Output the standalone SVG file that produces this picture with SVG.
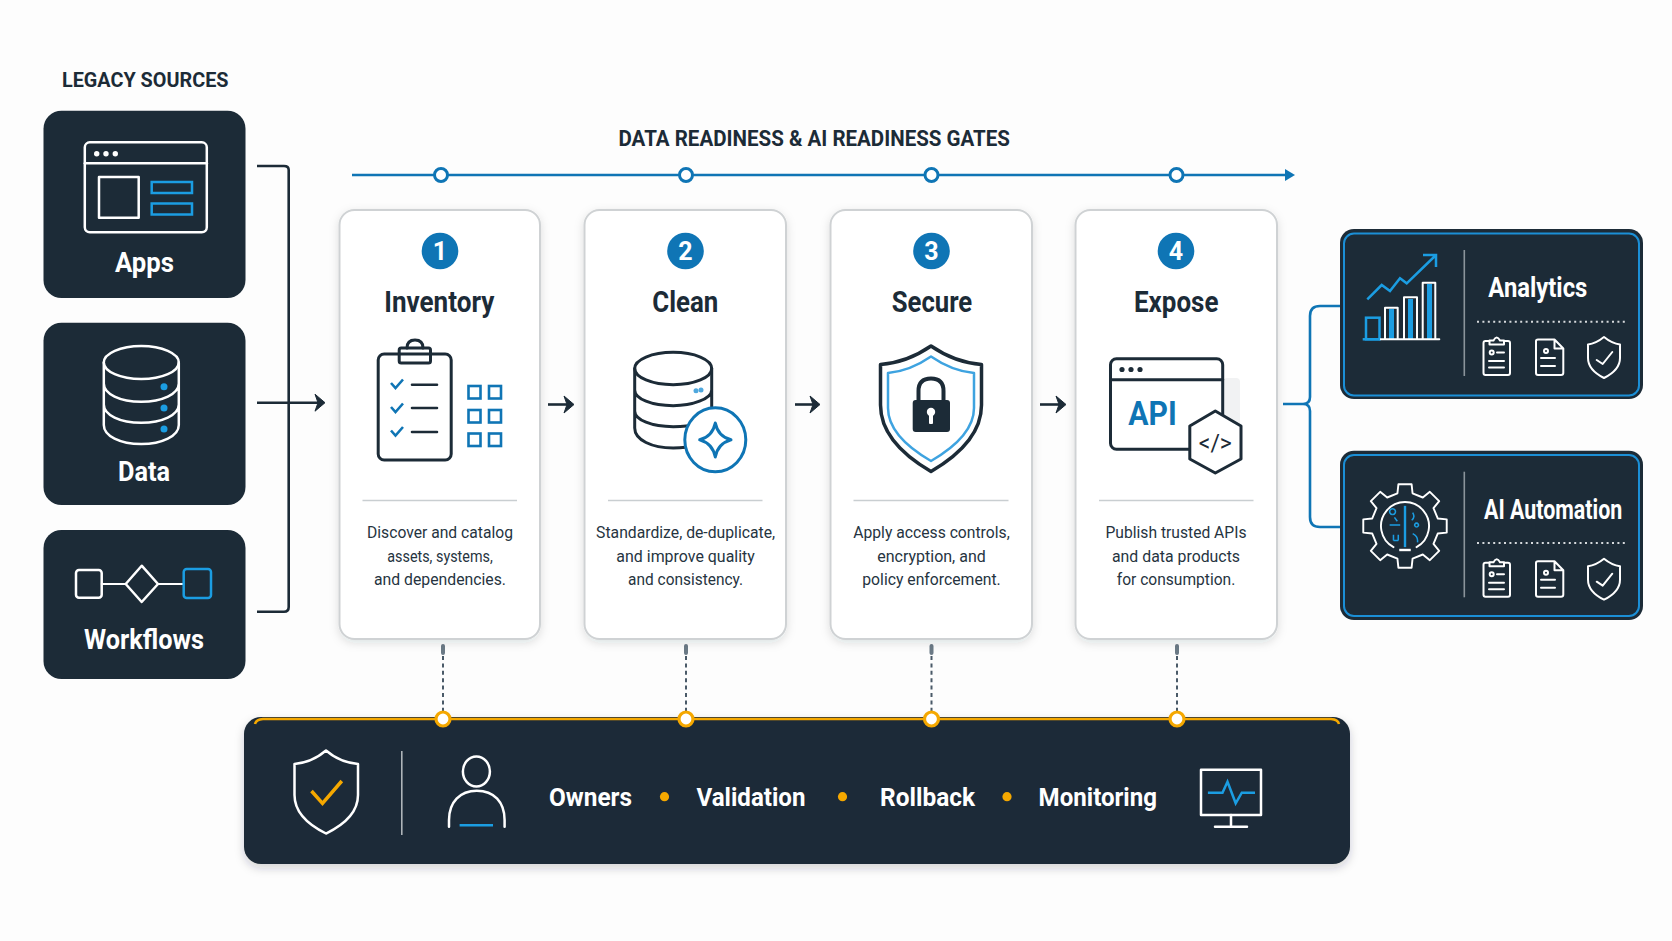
<svg xmlns="http://www.w3.org/2000/svg" xmlns:xlink="http://www.w3.org/1999/xlink" width="1672" height="941" viewBox="0 0 1672 941">
<style>
text{font-family:Roboto,"Liberation Sans",sans-serif}
.h{font-weight:700;fill:#1c2b37}
.l{font-weight:700;fill:#fff}
.t{font-weight:700;fill:#1c2b37;font-size:29px;text-anchor:middle}
.d{font-size:16.5px;fill:#26343f;text-anchor:middle}
.n{font-weight:700;font-size:25px;fill:#fff;text-anchor:middle}
.dark{fill:#1c2b37}
.w{fill:none;stroke:#fff;stroke-width:2.5;stroke-linejoin:round;stroke-linecap:round}
.w2{fill:none;stroke:#fff;stroke-width:2;stroke-linejoin:round;stroke-linecap:round}
.k{fill:none;stroke:#1c2b37;stroke-width:3;stroke-linejoin:round;stroke-linecap:round}
.b{fill:none;stroke:#0f75b5;stroke-width:2.6}
.lb{fill:none;stroke:#1b9de2;stroke-width:2.5}
.card{fill:#fff;stroke:#cfd2d4;stroke-width:2;filter:url(#sh)}
.rule{stroke:#c9ced1;stroke-width:1.6}
.badge{fill:#0f75b5}
.amb{fill:#f5a800}
.pin{fill:#fff;stroke:#f5a800;stroke-width:3.2}
.gate{fill:#fff;stroke:#0f75b5;stroke-width:3}
.cap{stroke:#6b7a86;stroke-width:4;stroke-linecap:round}
.dot{stroke:#4a5a68;stroke-width:2;stroke-dasharray:4 3.4}
.con{fill:none;stroke:#1c2b37;stroke-width:2.6;stroke-linejoin:round}
.conb{fill:none;stroke:#0f75b5;stroke-width:2.6}
.rd{stroke:#d5d9dc;stroke-width:2;stroke-dasharray:2 3.4}
.rv{stroke:#8a949b;stroke-width:1.6}
</style>
<defs>
<filter id="sh" x="-15%" y="-15%" width="130%" height="130%"><feDropShadow dx="0" dy="3" stdDeviation="5" flood-color="#1c2b37" flood-opacity="0.13"/></filter>
<filter id="sh2" x="-5%" y="-15%" width="110%" height="130%"><feDropShadow dx="0" dy="4" stdDeviation="5" flood-color="#1c2b37" flood-opacity="0.2"/></filter>
<path id="ah" d="M-10 -8.5 L0 0 L-10 8.5 L-7 0 Z" fill="#1c2b37" stroke="#1c2b37" stroke-width="1" stroke-linejoin="round"/>
<g id="minis">
<rect x="1483.5" y="341" width="26.5" height="34" rx="2" class="w2"/>
<path d="M1489.5 344.5 V340.5 H1493.5 Q1496.7 334.5 1500 340.5 H1504 V344.5 Z" class="w2" style="fill:#1c2b37"/>
<circle cx="1491.7" cy="352.5" r="2" class="w2"/>
<path d="M1497 352.5 H1504 M1489 361 H1504 M1489 367.5 H1504" class="w2"/>
<path d="M1536 341 Q1536 339.5 1538 339.5 H1554.5 L1563.3 348.5 V373 Q1563.3 375 1561 375 H1538 Q1536 375 1536 373 Z M1554.5 339.5 V348.5 H1563.3" class="w2"/>
<circle cx="1546" cy="351" r="2" class="w2"/>
<path d="M1541 358 H1555 M1541 366 H1555" class="w2"/>
<path d="M1604 337 Q1612 343.500 1620 344.500 V358 Q1620 370 1604 378 Q1588 370 1588 358 V344.500 Q1596 343.500 1604 337 Z" class="w2"/>
<path d="M1596.7 360 L1602.7 364 L1612.3 352" class="w2"/>
</g>
</defs>
<rect width="1672" height="941" fill="#fdfdfd"/>

<g id="connectors">
<path class="con" d="M257 166 H284 Q288.7 166 288.7 170 V607 Q288.7 611.7 284 611.7 H257"/>
<path class="con" d="M257 402.7 H322"/><use href="#ah" x="325" y="402.7"/>
<path class="con" d="M548 404.500 H571"/><use href="#ah" x="574" y="404.500"/>
<path class="con" d="M795 404.500 H817"/><use href="#ah" x="820" y="404.500"/>
<path class="con" d="M1040 404.500 H1063"/><use href="#ah" x="1066" y="404.500"/>
<path class="conb" d="M1283 404 H1303 Q1310 404 1310 397 V316 Q1310 306 1320 306 H1344 M1303 404 Q1310 404 1310 411 V517 Q1310 527 1320 527 H1344"/>
<g id="gates">
<path class="conb" d="M352 175 H1288"/>
<path d="M1285 169 L1295 175 L1285 181 Z" fill="#0f75b5"/>
<circle class="gate" cx="441" cy="175" r="6.5"/><circle class="gate" cx="686" cy="175" r="6.5"/><circle class="gate" cx="931.500" cy="175" r="6.5"/><circle class="gate" cx="1176.500" cy="175" r="6.5"/>
</g>
<g id="drops">
<path class="cap" d="M443 646 V653 M686 646 V653 M931.5 646 V653 M1177 646 V653"/>
<path class="dot" d="M443 656 V712 M686 656 V712 M931.5 656 V712 M1177 656 V712"/>
</g>
</g>

<text x="62" y="87" class="h" font-size="20" textLength="166.500" lengthAdjust="spacingAndGlyphs">LEGACY SOURCES</text>
<text x="618.500" y="146" class="h" font-size="22" textLength="391.500" lengthAdjust="spacingAndGlyphs">DATA READINESS &amp; AI READINESS GATES</text>

<g id="apps">
<rect class="dark" x="43.500" y="110.700" width="202" height="187.300" rx="18"/>
<rect class="w" x="84.800" y="142.300" width="122" height="90" rx="5"/>
<path class="w" d="M84.800 163.300 H206.800"/>
<circle cx="96.700" cy="153.700" r="2.700" fill="#fff"/><circle cx="106" cy="153.700" r="2.700" fill="#fff"/><circle cx="115.300" cy="153.700" r="2.700" fill="#fff"/>
<rect class="w" x="99" y="177" width="39.700" height="40.700"/>
<rect class="lb" x="151.700" y="182" width="40.300" height="11"/>
<rect class="lb" x="151.700" y="203.500" width="40.300" height="11"/>
<text class="l" x="115" y="272" font-size="28" textLength="59" lengthAdjust="spacingAndGlyphs">Apps</text>
</g>

<g id="data">
<rect class="dark" x="43.500" y="322.700" width="202" height="182.300" rx="18"/>
<ellipse class="w" cx="141.300" cy="362.500" rx="37.500" ry="16.500"/>
<path class="w" d="M103.800 362.500 V425 C103.800 436 120 444 141.300 444 C162 444 178.800 436 178.800 425 V362.500 M103.800 383.500 C103.800 394 120 401.700 141.300 401.700 C162 401.700 178.800 394 178.800 383.500 M103.800 404.500 C103.800 415 120 422.700 141.300 422.700 C162 422.700 178.800 415 178.800 404.500"/>
<circle cx="164" cy="386.700" r="3.500" fill="#1b9de2"/><circle cx="164" cy="408" r="3.500" fill="#1b9de2"/><circle cx="164" cy="429" r="3.500" fill="#1b9de2"/>
<text class="l" x="118" y="481" font-size="27" textLength="52" lengthAdjust="spacingAndGlyphs">Data</text>
</g>

<g id="workflows">
<rect class="dark" x="43.500" y="530" width="202" height="149" rx="18"/>
<rect class="w" x="76" y="570" width="25.700" height="27.700" rx="3"/>
<path class="w2" d="M101.700 584 H125.700 M158 584 H183"/>
<path class="w" d="M125.700 584 L141.700 565.700 L158 584 L141.700 602 Z"/>
<rect class="lb" x="183.700" y="569" width="27.300" height="29" rx="3"/>
<text class="l" x="84" y="649" font-size="27" textLength="120" lengthAdjust="spacingAndGlyphs">Workflows</text>
</g>

<g id="inventory">
<rect class="card" x="339.500" y="210" width="200.500" height="429" rx="15"/>
<circle class="badge" cx="440" cy="251" r="18.300"/><text class="n" x="440" y="260">1</text>
<text class="t" x="439.300" y="311.700" textLength="110" lengthAdjust="spacingAndGlyphs">Inventory</text>
<rect class="k" x="378.200" y="354" width="73" height="106" rx="6"/>
<path class="k" d="M407 348 Q407 340 415 340 Q423 340 423 348"/>
<rect x="399.200" y="348" width="31.300" height="15" rx="2" fill="#fff" class="k"/>
<path class="b" d="M391 383 L395.500 388 L403 379.500 M391 407 L395.500 412 L403 403.500 M391 430.500 L395.500 435.500 L403 427"/>
<path class="k" style="stroke-width:2.6" d="M412 384.700 H437 M412 408 H437 M412 432 H437"/>
<g class="b"><rect x="468.500" y="386" width="12" height="12.500"/><rect x="489" y="386" width="12" height="12.500"/><rect x="468.500" y="410" width="12" height="12.500"/><rect x="489" y="410" width="12" height="12.500"/><rect x="468.500" y="433.500" width="12" height="12.500"/><rect x="489" y="433.500" width="12" height="12.500"/></g>
<path class="rule" d="M362.500 500.500 H517"/>
<text class="d" x="440" y="538" textLength="146" lengthAdjust="spacingAndGlyphs">Discover and catalog</text>
<text class="d" x="440" y="561.500" textLength="105.500" lengthAdjust="spacingAndGlyphs">assets, systems,</text>
<text class="d" x="440" y="585" textLength="132" lengthAdjust="spacingAndGlyphs">and dependencies.</text>
</g>

<g id="clean">
<rect class="card" x="584.500" y="210" width="201.500" height="429" rx="15"/>
<circle class="badge" cx="685.500" cy="251" r="18.300"/><text class="n" x="685.500" y="260">2</text>
<text class="t" x="685.300" y="311.700" textLength="66" lengthAdjust="spacingAndGlyphs">Clean</text>
<ellipse class="k" cx="673.200" cy="368.500" rx="38.500" ry="16.200"/>
<path class="k" d="M634.700 368.500 V428 C634.700 440 652 448 673.200 448 C680 448 690 447 697 445 M711.700 368.500 V420 M634.700 390 C634.700 399 652 405.700 673.200 405.700 C692 405.700 711.700 399 711.700 390 M634.700 411 C634.700 420 652 426.700 673.200 426.700 C680 426.700 690 426 696 424"/>
<circle cx="696" cy="390.700" r="2.500" fill="#4fa8de"/><circle cx="701" cy="390" r="2.500" fill="#4fa8de"/>
<ellipse cx="715.300" cy="439.800" rx="30.500" ry="32" fill="#fff" stroke="#0f75b5" stroke-width="3"/>
<path d="M715.300 423 Q718 436.500 731 439.800 Q718 443.500 715.300 457 Q712.500 443.500 699.700 439.800 Q712.500 436.500 715.300 423 Z" fill="none" stroke="#0f75b5" stroke-width="3" stroke-linejoin="round"/>
<path class="rule" d="M608 500.500 H762.500"/>
<text class="d" x="685.600" y="538" textLength="179" lengthAdjust="spacingAndGlyphs">Standardize, de-duplicate,</text>
<text class="d" x="685.600" y="561.500" textLength="138.500" lengthAdjust="spacingAndGlyphs">and improve quality</text>
<text class="d" x="685.600" y="585" textLength="115" lengthAdjust="spacingAndGlyphs">and consistency.</text>
</g>

<g id="secure">
<rect class="card" x="830.500" y="210" width="201.500" height="429" rx="15"/>
<circle class="badge" cx="931.500" cy="251" r="18.300"/><text class="n" x="931.500" y="260">3</text>
<text class="t" x="932" y="311.700" textLength="80.500" lengthAdjust="spacingAndGlyphs">Secure</text>
<path class="k" style="stroke-width:3.5" d="M931 346 Q955 362.500 981.500 364.500 V405 Q981.500 442 931 471.500 Q880.500 442 880.500 405 V364.500 Q907 362.500 931 346 Z"/>
<path d="M931 356.500 Q952 371 974 373 V408 Q974 436 931 461 Q888 436 888 408 V373 Q910 371 931 356.500 Z" fill="none" stroke="#3ea3e0" stroke-width="2.5" stroke-linejoin="round"/>
<path class="k" style="stroke-width:4" d="M918.500 402 V391 Q918.500 378.500 931 378.500 Q943.500 378.500 943.500 391 V402"/>
<rect x="912.700" y="400" width="37.300" height="32" rx="3" fill="#1c2b37"/>
<circle cx="931" cy="412" r="4.200" fill="#fff"/><rect x="929" y="413" width="4" height="11" rx="1" fill="#fff"/>
<path class="rule" d="M853.500 500.500 H1008.500"/>
<text class="d" x="931.500" y="538" textLength="156.500" lengthAdjust="spacingAndGlyphs">Apply access controls,</text>
<text class="d" x="931.500" y="561.500" textLength="108.500" lengthAdjust="spacingAndGlyphs">encryption, and</text>
<text class="d" x="931.500" y="585" textLength="138.500" lengthAdjust="spacingAndGlyphs">policy enforcement.</text>
</g>

<g id="expose">
<rect class="card" x="1075.500" y="210" width="201.500" height="429" rx="15"/>
<circle class="badge" cx="1176" cy="251" r="18.300"/><text class="n" x="1176" y="260">4</text>
<text class="t" x="1176.200" y="311.700" textLength="84.500" lengthAdjust="spacingAndGlyphs">Expose</text>
<rect x="1223" y="378" width="17" height="60" rx="4" fill="#f1f2f3"/>
<rect class="k" x="1110.500" y="358.800" width="112.200" height="90.500" rx="6"/>
<path class="k" d="M1110.500 379.800 H1222.700"/>
<circle cx="1122" cy="369.500" r="2.600" fill="#1c2b37"/><circle cx="1131" cy="369.500" r="2.600" fill="#1c2b37"/><circle cx="1140" cy="369.500" r="2.600" fill="#1c2b37"/>
<text x="1128.300" y="425" font-size="33" font-weight="700" fill="#0f75b5" textLength="48.500" lengthAdjust="spacingAndGlyphs">API</text>
<path d="M1215.300 411 L1241 426 V459 L1215.300 473 L1189.800 459 V426 Z" fill="#fff" stroke="#1c2b37" stroke-width="3" stroke-linejoin="round"/>
<text x="1215.300" y="451" font-size="24" fill="#1c2b37" text-anchor="middle" textLength="33" lengthAdjust="spacingAndGlyphs">&lt;/&gt;</text>
<path class="rule" d="M1099 500.500 H1253.500"/>
<text class="d" x="1176" y="538" textLength="141" lengthAdjust="spacingAndGlyphs">Publish trusted APIs</text>
<text class="d" x="1176" y="561.500" textLength="128" lengthAdjust="spacingAndGlyphs">and data products</text>
<text class="d" x="1176" y="585" textLength="118.500" lengthAdjust="spacingAndGlyphs">for consumption.</text>
</g>

<g id="analytics">
<rect class="dark" x="1340" y="229" width="303" height="170" rx="14"/>
<rect x="1344" y="233.500" width="295" height="162" rx="10" fill="none" stroke="#1b8fd6" stroke-width="2"/>
<path class="rv" d="M1464.300 250 V376"/>
<path class="lb" d="M1367.300 299.300 L1381.700 285 L1390 291 L1400 278.300 L1406.700 283.300 L1435 256 M1423 255 H1436 V267"/>
<rect class="lb" x="1366" y="317.700" width="13.500" height="21.600"/>
<g fill="#1b9de2"><rect x="1389" y="309" width="5" height="30"/><rect x="1408" y="299" width="5" height="40"/><rect x="1427" y="284" width="5" height="55"/></g>
<path class="w2" d="M1385 339.300 V307.700 H1397.700 V339.300 M1404 339.300 V297.300 H1417 V339.300 M1422.700 339.300 V282.700 H1435.300 V339.300 M1380 339.300 H1439.300"/>
<path d="M1362.700 339.300 H1380" class="lb"/>
<text class="l" x="1488.300" y="296.700" font-size="27" textLength="99" lengthAdjust="spacingAndGlyphs">Analytics</text>
<path class="rd" d="M1477 321.700 H1625.700"/>
<use href="#minis"/>
</g>

<g id="ai-automation">
<rect class="dark" x="1340" y="450.700" width="303" height="169.300" rx="14"/>
<rect x="1344" y="455" width="295" height="161" rx="10" fill="none" stroke="#1b8fd6" stroke-width="2"/>
<path class="rv" d="M1464.300 471.700 V597.300"/>
<g transform="translate(1405 526) scale(0.96)">
<polygon class="w2" points="34.100,-7.870 43.460,-6.880 43.460,6.880 34.100,7.870 29.680,18.550 35.600,25.870 25.870,35.600 18.550,29.680 7.870,34.100 6.880,43.460 -6.880,43.460 -7.870,34.100 -18.550,29.680 -25.870,35.600 -35.600,25.870 -29.680,18.550 -34.100,7.870 -43.460,6.880 -43.460,-6.880 -34.100,-7.870 -29.680,-18.550 -35.600,-25.870 -25.870,-35.600 -18.550,-29.680 -7.870,-34.100 -6.880,-43.460 6.880,-43.460 7.870,-34.100 18.550,-29.680 25.870,-35.600 35.600,-25.870 29.680,-18.550"/>
<path class="w2" d="M-12 22 A25 25 0 1 1 12 22"/>
<path d="M0 -21 V22" stroke="#1b9de2" stroke-width="2.500"/>
<path d="M-6 25 H6" stroke="#fff" stroke-width="2.500"/>
<path d="M-13 -12 a3 3 0 1 1 0.100 0 M-11 -9 L-8 -5 M8 -14 q3 5 -1 8 M-16 -1 H-5 M12 1 a2 2 0 1 1 0.100 0 M-12 9 v6 M-7 9 v6 M-12 15 H-7 M8 8 q6 3 5 9" fill="none" stroke="#1b9de2" stroke-width="1.600"/>
</g>
<text class="l" x="1484" y="519" font-size="27" textLength="138.300" lengthAdjust="spacingAndGlyphs">AI Automation</text>
<path class="rd" d="M1477 543 H1625.700"/>
<use href="#minis" y="221.700"/>
</g>

<g id="governance">
<rect class="dark" x="244" y="717" width="1106" height="147" rx="17" filter="url(#sh2)"/>
<path d="M255 724 Q256 719.500 263 719 H1331 Q1338 719.500 1339 724" fill="none" stroke="#f5a800" stroke-width="2.500"/>
<circle class="pin" cx="443" cy="719" r="7"/><circle class="pin" cx="686" cy="719" r="7"/><circle class="pin" cx="931.500" cy="719" r="7"/><circle class="pin" cx="1177" cy="719" r="7"/>
<path d="M326 750.500 Q340 762.500 358 764 V795 Q358 818 326 833.500 Q294.500 818 294.500 795 V764 Q312 762.500 326 750.500 Z" class="w"/>
<path d="M311.500 791 L322.500 803.300 L341.800 781" fill="none" stroke="#f5a800" stroke-width="3.500"/>
<path d="M401.800 751 V835" stroke="#aeb4b9" stroke-width="1.600"/>
<ellipse class="w" cx="476.400" cy="771.500" rx="13.500" ry="15"/>
<path class="w" d="M449 826.700 V820 C449 802 460 790.700 476.800 790.700 C494 790.700 504.600 802 504.600 820 V826.700"/>
<path d="M459.600 825.300 H493" stroke="#1b9de2" stroke-width="2.500"/>
<text class="l" x="549" y="806" font-size="26.500" textLength="83" lengthAdjust="spacingAndGlyphs">Owners</text>
<circle class="amb" cx="664.500" cy="796.700" r="4.600"/>
<text class="l" x="696.500" y="806" font-size="26.500" textLength="109" lengthAdjust="spacingAndGlyphs">Validation</text>
<circle class="amb" cx="842.500" cy="796.700" r="4.600"/>
<text class="l" x="880" y="806" font-size="26.500" textLength="95" lengthAdjust="spacingAndGlyphs">Rollback</text>
<circle class="amb" cx="1007" cy="796.700" r="4.600"/>
<text class="l" x="1038.600" y="806" font-size="26.500" textLength="118.400" lengthAdjust="spacingAndGlyphs">Monitoring</text>
<rect class="w" x="1201" y="769.800" width="60" height="45.200"/>
<path class="w" d="M1231 815 V826.700 M1215 826.700 H1247"/>
<path class="lb" d="M1207.900 792.700 H1222.500 L1227.500 781.700 L1235.700 803.300 L1241.800 792.700 H1255"/>
</g>
</svg>
